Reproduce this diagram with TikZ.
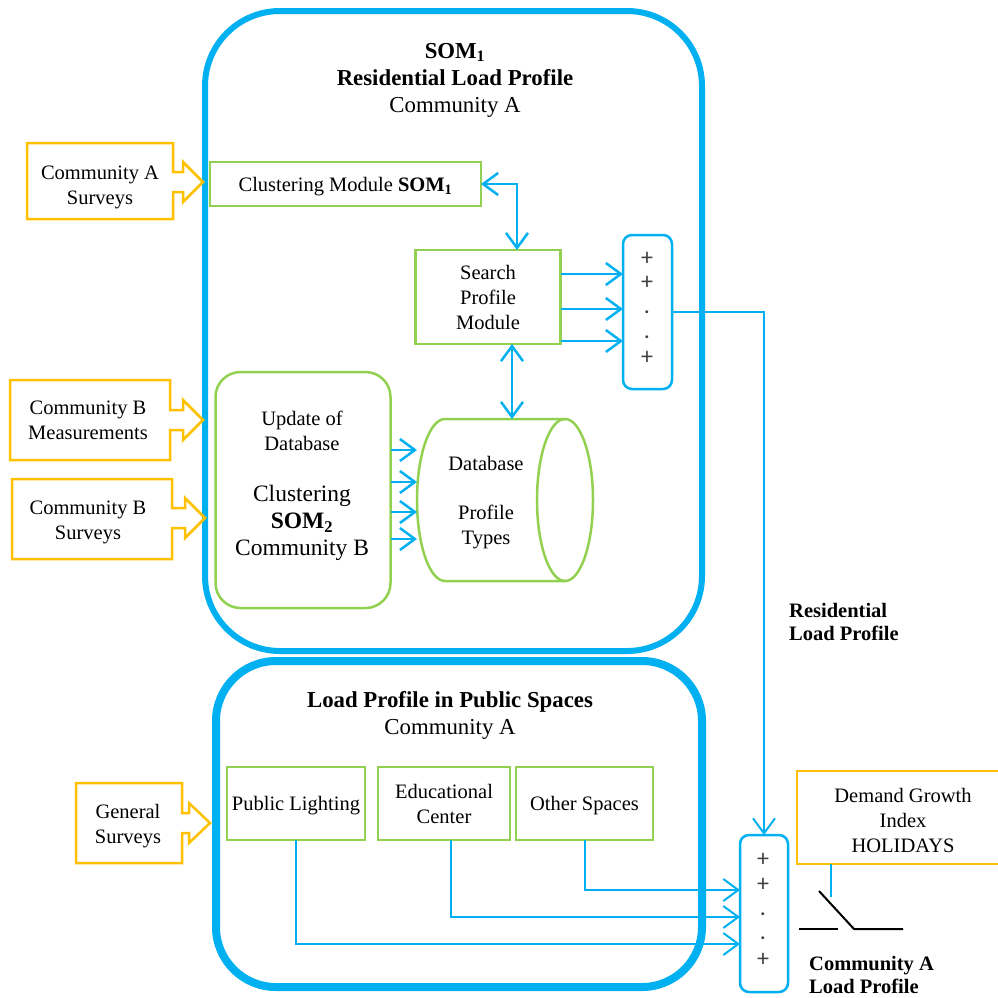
\documentclass[tikz,border=0pt]{standalone}
\usepackage{fontspec}
\setmainfont{Liberation Serif}
\newfontfamily\plusfont{Carlito}
\usetikzlibrary{arrows.meta}
\definecolor{cblue}{HTML}{00B0F0}
\definecolor{cgreen}{HTML}{92D050}
\definecolor{corange}{HTML}{FFC000}
\definecolor{cgray}{HTML}{404040}
\begin{document}
\begin{tikzpicture}[x=1pt,y=-1pt,
 txt/.style={font=\fontsize{20.5}{25}\selectfont, align=center, inner sep=0pt},
 big/.style={font=\fontsize{23.5}{27}\selectfont, align=center, inner sep=0pt},
 ttl/.style={font=\fontsize{22.8}{27}\selectfont, align=center, inner sep=0pt},
 gbox/.style={txt, draw=cgreen, line width=2.5pt, outer sep=0pt},
 sumbox/.style={draw=cblue, line width=2.5pt, rounded corners=9pt, outer sep=0pt, inner sep=0pt},
 plus/.style={font=\plusfont\fontsize{24}{24}\selectfont, text=cgray, inner sep=0pt},
 obox/.style={draw=corange, line width=2.5pt, line join=miter},
 conn/.style={draw=cblue, line width=2.5pt},
 arr/.style={conn, -{Straight Barb[length=15pt,width=22pt]}},
 darr/.style={conn, {Straight Barb[length=15pt,width=22pt]}-{Straight Barb[length=15pt,width=22pt]}},
 sw/.style={draw=black, line width=2pt},
]
\useasboundingbox (0,0) rectangle (998,997);
\clip (0,0) rectangle (998,997);

% big containers
\draw[cblue, line width=6pt, rounded corners=75pt] (205,11) rectangle (702,651);
\draw[cblue, line width=8pt, rounded corners=60pt] (216,661) rectangle (702,987);

% titles
\node[ttl] (t1) at (455,80) {\textbf{SOM\textsubscript{1}}\\\textbf{Residential Load Profile}\\Community A};
\node[ttl] (t2) at (450,715.5) {\textbf{Load Profile in Public Spaces}\\Community A};

% orange input callouts
\draw[obox] (27,143) -- (173,143) -- (173,172) -- (183,172) -- (183,162) -- (203,182) -- (183,202) -- (183,192) -- (173,192) -- (173,219) -- (27,219) -- cycle;
\node[txt] (ca) at (100,187.5) {Community A\\Surveys};

\draw[obox] (10,380) -- (170,380) -- (170,410) -- (183,410) -- (183,400) -- (203,420) -- (183,440) -- (183,430) -- (170,430) -- (170,460) -- (10,460) -- cycle;
\node[txt] (cbm) at (88,420.5) {Community B\\Measurements};

\draw[obox] (12,479) -- (172,479) -- (172,508) -- (185,508) -- (185,498) -- (205,518) -- (185,538) -- (185,528) -- (172,528) -- (172,559) -- (12,559) -- cycle;
\node[txt] (cbs) at (88,522.5) {Community B\\Surveys};

\draw[obox] (76,783) -- (182,783) -- (182,813) -- (189,813) -- (189,803) -- (210,823) -- (189,843) -- (189,833) -- (182,833) -- (182,863) -- (76,863) -- cycle;
\node[txt] (gs) at (128,826.5) {General\\Surveys};

% green modules
\node[gbox, text depth=0pt, minimum width=271pt, minimum height=44pt] (clus) at (345.5,184) {Clustering Module \textbf{SOM\textsubscript{1}}};
\node[gbox, minimum width=145pt, minimum height=94pt] (search) at (488,297) {Search\\Profile\\Module};
\node[gbox, rounded corners=25pt, minimum width=175pt, minimum height=236pt] (update) at (303,490) {};
\node[txt] (updtxt) at (302,430.5) {Update of\\Database};
\node[big] (clutxt) at (302,523) {Clustering\\\textbf{SOM\textsubscript{2}}\\Community B};

% database cylinder
\node[minimum width=176pt, minimum height=162pt, inner sep=0pt, outer sep=0pt] (db) at (505,500) {};
\draw[cgreen, line width=2.5pt] (565,419) -- (445,419) arc[start angle=90, end angle=270, x radius=28pt, y radius=81pt] -- (565,581);
\draw[cgreen, line width=2.5pt] (565,500) ellipse[x radius=28pt, y radius=81pt];
\node[txt] (dbtxt) at (486,503) {Database\\[24pt]Profile\\Types};

% summing junction 1
\node[sumbox, minimum width=49pt, minimum height=154pt] (sum1) at (647.5,312) {};
\node[plus] (s1a) at (647,259) {+};
\node[plus] (s1b) at (647,283) {+};
\node[plus] (s1c) at (647,312) {.};
\node[plus] (s1d) at (647,337) {.};
\node[plus] (s1e) at (647,358) {+};

% public spaces
\node[gbox, text depth=0pt, minimum width=138pt, minimum height=73pt] (pl) at (296,803.5) {Public Lighting};
\node[gbox, minimum width=132pt, minimum height=73pt] (ec) at (444,803.5) {Educational\\Center};
\node[gbox, text depth=0pt, minimum width=137pt, minimum height=73pt] (os) at (584.5,803.5) {Other Spaces};

% summing junction 2
\node[sumbox, minimum width=48pt, minimum height=157pt] (sum2) at (764,913.5) {};
\node[plus] (s2a) at (763,860) {+};
\node[plus] (s2b) at (763,885) {+};
\node[plus] (s2c) at (763,914) {.};
\node[plus] (s2d) at (763,938) {.};
\node[plus] (s2e) at (763,960) {+};

% demand growth index
\node[draw=corange, line width=2.5pt, minimum width=215pt, minimum height=93pt, outer sep=0pt] (dgi) at (904.5,817.5) {};
\node[txt] (dgitxt) at (903,820.5) {Demand Growth\\Index\\HOLIDAYS};

% labels
\node[txt, align=left, anchor=west, font=\fontsize{20.5}{23}\selectfont\bfseries] (rlp) at (789,621.5) {Residential\\Load Profile};
\node[txt, align=left, anchor=west, font=\fontsize{20.5}{23}\selectfont\bfseries] (calp) at (809,975) {Community A\\Load Profile};

% connectors
\draw[darr] (clus.east) -| ([xshift=29pt]search.north);
\draw[darr] ([xshift=24pt]search.south) -- ([xshift=24pt]search.south |- db.north);
\draw[arr] (search.east |- 0,274) -- (sum1.west |- 0,274);
\draw[arr] (search.east |- 0,309) -- (sum1.west |- 0,309);
\draw[arr] (search.east |- 0,341) -- (sum1.west |- 0,341);
\draw[arr] (update.east |- 0,450) -- (db.west |- 0,450);
\draw[arr] (update.east |- 0,482) -- (db.west |- 0,482);
\draw[arr] (update.east |- 0,512) -- (db.west |- 0,512);
\draw[arr] (update.east |- 0,539) -- (db.west |- 0,539);
\draw[arr, line width=2pt] (sum1.east) -| (sum2.north);
\draw[arr, line width=2pt] (os.south) |- ([yshift=23.5pt]sum2.west);
\draw[arr, line width=2pt] ([xshift=7pt]ec.south) |- ([yshift=-3.5pt]sum2.west);
\draw[arr, line width=2pt] (pl.south) |- ([yshift=-30.5pt]sum2.west);

% switch
\coordinate (swtop) at (831,897);
\coordinate (swa) at (799,929);
\coordinate (swb) at (838,929);
\coordinate (swc) at (819,891);
\coordinate (swd) at (854,929);
\coordinate (swe) at (903,929);
\draw[conn, line width=2pt] (dgi.south -| swtop) -- (swtop);
\draw[sw] (swa) -- (swb);
\draw[sw] (swc) -- (swd) -- (swe);
\end{tikzpicture}
\end{document}
